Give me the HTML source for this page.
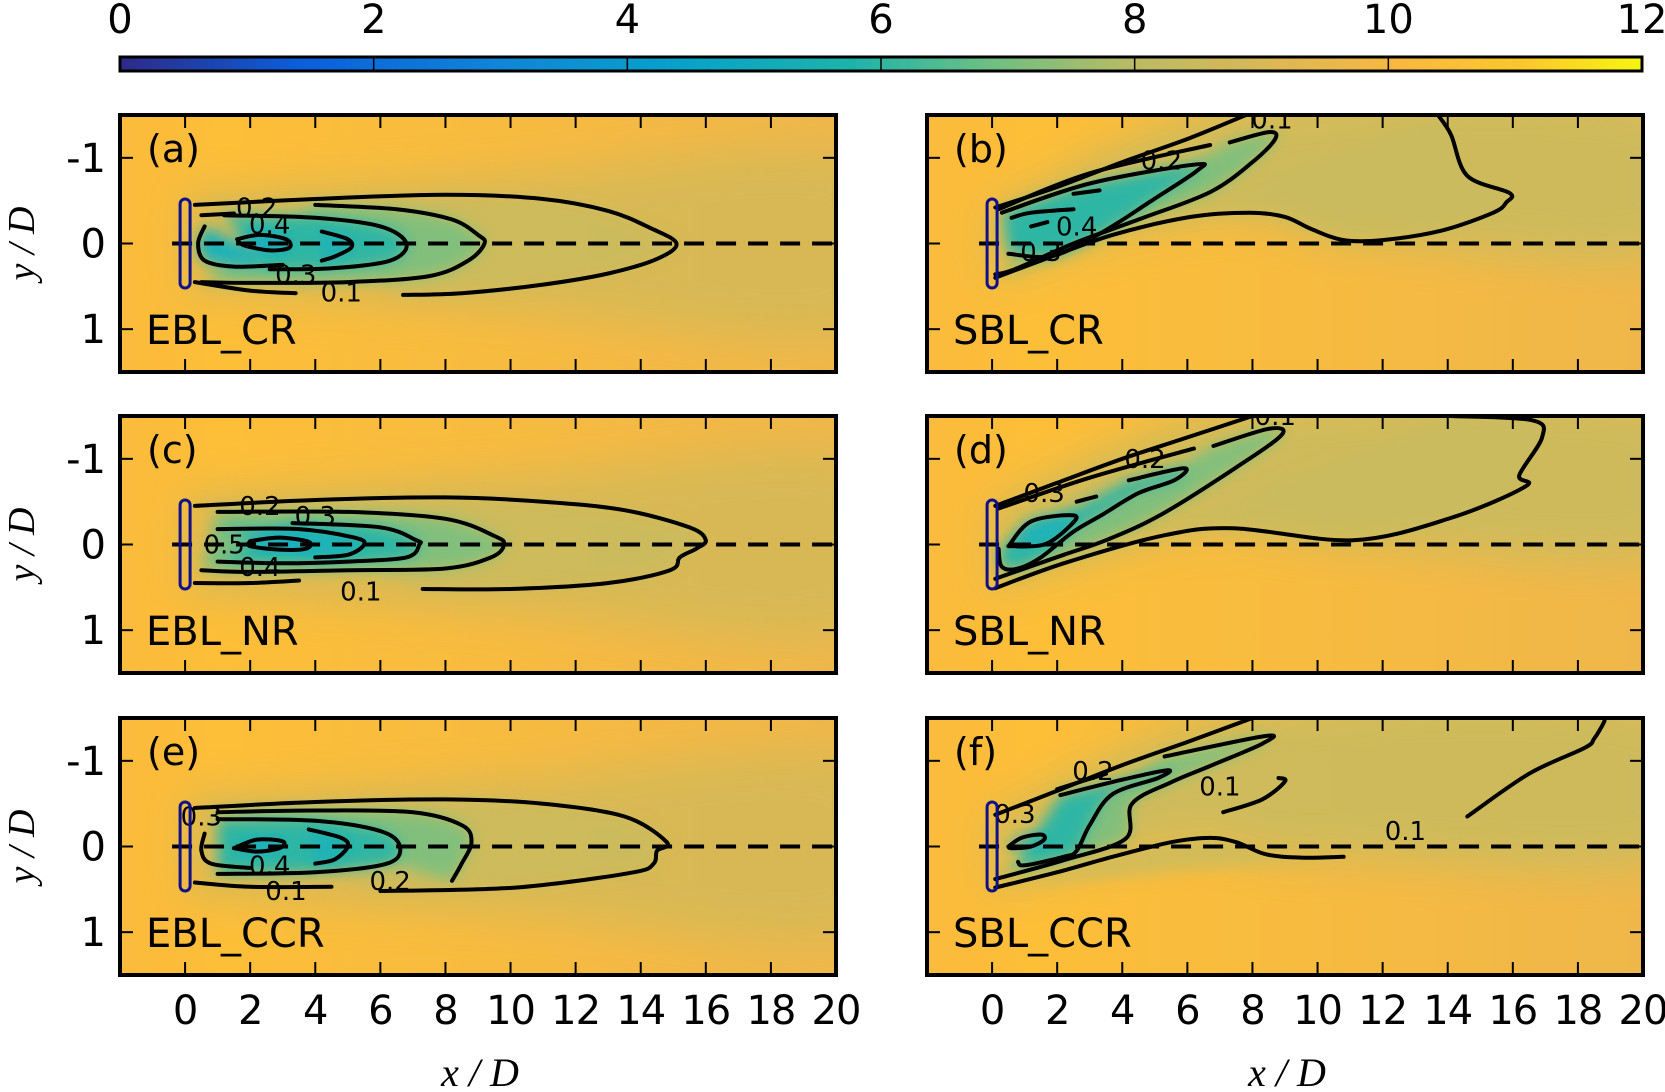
<!DOCTYPE html>
<html><head><meta charset="utf-8">
<style>
html,body{margin:0;padding:0;background:#fff;}
svg{display:block;font-family:"DejaVu Sans","Liberation Sans",sans-serif;}
</style></head>
<body>
<svg id="fig" width="1665" height="1092" viewBox="0 0 1665 1092" xmlns="http://www.w3.org/2000/svg">
<defs>
<linearGradient id="parula" x1="0" x2="1" y1="0" y2="0">
<stop offset="0" stop-color="#2e2a86"/><stop offset="0.12" stop-color="#0b5fdc"/>
<stop offset="0.25" stop-color="#1185d6"/><stop offset="0.37" stop-color="#08a2c9"/>
<stop offset="0.48" stop-color="#1db3aa"/><stop offset="0.57" stop-color="#6dbf84"/>
<stop offset="0.67" stop-color="#bcbb65"/><stop offset="0.76" stop-color="#dcb855"/>
<stop offset="0.84" stop-color="#f9b842"/><stop offset="0.92" stop-color="#fbc72c"/>
<stop offset="1" stop-color="#f5f511"/>
</linearGradient>
<linearGradient id="bgL" x1="0" x2="1" y1="0" y2="0">
<stop offset="0" stop-color="#fbbb3c"/><stop offset="0.15" stop-color="#fdbe38"/><stop offset="1" stop-color="#efb74a"/>
</linearGradient>
<filter id="blur1" x="-20%" y="-50%" width="140%" height="200%"><feGaussianBlur stdDeviation="7"/></filter>
<filter id="blur2" x="-20%" y="-50%" width="140%" height="200%"><feGaussianBlur stdDeviation="20"/></filter>
</defs>
</svg>
<script>
// ---- data ----
const cbarTicks = [0, 2, 4, 6, 8, 10, 12];
const xTicks = [0, 2, 4, 6, 8, 10, 12, 14, 16, 18, 20];
const yTicks = [-1, 0, 1];
const panelNames = ["EBL_CR", "SBL_CR", "EBL_NR", "SBL_NR", "EBL_CCR", "SBL_CCR"];
const panelLetters = ["(a)", "(b)", "(c)", "(d)", "(e)", "(f)"];

const contoursA = [
  {lv:0.1, pts:[[0.3,-0.45],[4,-0.52],[8,-0.57],[11,-0.52],[13,-0.38],[14.3,-0.18],[15.1,0],[14.5,0.18],[13,0.35],[11,0.48],[8.5,0.58],[6.7,0.6]]},
  {lv:0.1, pts:[[0.3,0.45],[2,0.55],[3.4,0.58]]},
  {lv:0.2, pts:[[4,-0.45],[6.5,-0.4],[8.2,-0.28],[9,-0.1],[9.2,0],[8.7,0.2],[7.5,0.38],[5,0.45],[2,0.46],[0.5,0.45]]},
  {lv:0.2, pts:[[0.5,-0.33],[1.5,-0.35]]},
  {lv:0.3, pts:[[1.2,-0.33],[4,-0.3],[6,-0.2],[6.8,0],[6.3,0.2],[4.5,0.29],[2.6,0.3]]},
  {lv:0.4, pts:[[4.2,-0.14],[5,-0.05],[5.1,0.05],[4.6,0.15],[4.2,0.2]]},
  {lv:0.4, pts:[[0.6,-0.2],[0.4,0],[0.6,0.2],[1.5,0.27],[3,0.25]]},
  {lv:0.5, pts:[[1.6,-0.05],[2.3,-0.1],[3.1,-0.05],[3.2,0.05],[2.6,0.08],[1.8,0.02],[1.6,-0.05]]}
];
const contoursC = [
  {lv:0.1, pts:[[0.3,-0.45],[4,-0.52],[8,-0.55],[11,-0.5],[13.5,-0.4],[15.5,-0.2],[16,-0.05],[15.7,0.05],[15.2,0.15],[14.9,0.3],[13,0.45],[10,0.52],[7.3,0.52]]},
  {lv:0.1, pts:[[0.3,0.45],[2,0.45],[3.5,0.42]]},
  {lv:0.2, pts:[[1,-0.38],[5,-0.38],[8,-0.3],[9.5,-0.1],[9.8,0],[9.4,0.15],[8,0.28],[5,0.3],[2,0.32],[0.5,0.3]]},
  {lv:0.3, pts:[[3.3,-0.25],[6,-0.2],[7.1,-0.05],[7.2,0],[6.8,0.15],[5,0.2],[3,0.22],[1,0.2]]},
  {lv:0.4, pts:[[1,-0.18],[3.5,-0.18],[5.2,-0.08],[5.5,0],[5,0.12],[4,0.15]]},
  {lv:0.5, pts:[[2,-0.04],[2.9,-0.08],[3.8,-0.03],[3.7,0.05],[2.9,0.06],[2,0.02],[2,-0.04]]}
];
const contoursE = [
  {lv:0.1, pts:[[0.3,-0.45],[4,-0.52],[8,-0.55],[11,-0.5],[13.5,-0.35],[14.8,-0.05],[14.5,0.05],[14.4,0.2],[13.8,0.3],[11,0.45],[9,0.5],[6,0.52]]},
  {lv:0.1, pts:[[0.3,0.42],[2,0.47],[4.5,0.47]]},
  {lv:0.2, pts:[[1,-0.4],[4,-0.42],[7,-0.4],[8.5,-0.25],[8.8,-0.05],[8.5,0.2],[8.2,0.4]]},
  {lv:0.3, pts:[[1,-0.32],[4,-0.3],[6,-0.18],[6.6,0],[6.2,0.2],[4,0.3],[1,0.32]]},
  {lv:0.4, pts:[[3.8,-0.2],[4.8,-0.1],[5,0],[4.6,0.15],[4,0.2]]},
  {lv:0.4, pts:[[0.6,-0.15],[0.5,0.05],[0.8,0.2],[2,0.25]]},
  {lv:0.5, pts:[[1.5,0.02],[2.2,-0.08],[3,-0.06],[2.9,0.02],[2.2,0.06],[1.5,0.02]]}
];
const contoursB = [
  {lv:0.1, pts:[[0.1,-0.42],[2,-0.66],[4,-0.95],[6,-1.22],[7.8,-1.5]]},
  {lv:0.1, pts:[[13.7,-1.5],[14.1,-1.27],[14.6,-0.79],[15.9,-0.59],[15.8,-0.48],[15.4,-0.36],[13.8,-0.15],[12,-0.04],[10.8,-0.04],[9.8,-0.17],[9,-0.31],[7.9,-0.36],[6.1,-0.31],[3.7,-0.1],[1.5,0.2],[0.1,0.4]]},
  {lv:0.2, pts:[[0.2,-0.4],[3,-0.82],[6.7,-1.15]]},
  {lv:0.2, pts:[[7.3,-1.18],[8.5,-1.3],[8.7,-1.22],[8,-0.95],[6.7,-0.6],[4.5,-0.28],[2.5,0.0],[0.7,0.3],[0.1,0.36]]},
  {lv:0.3, pts:[[0.3,-0.36],[3,-0.7],[6.2,-0.92],[6.3,-0.85],[4.9,-0.5],[3.9,-0.25],[3,-0.05],[1.8,0.15],[0.5,0.12]]},
  {lv:0.4, pts:[[2.5,-0.58],[3.3,-0.62]]},
  {lv:0.4, pts:[[0.6,-0.3],[1.2,-0.36],[2.5,-0.4]]},
  {lv:0.4, pts:[[1.2,-0.2],[1.7,-0.25]]}
];
const contoursD = [
  {lv:0.1, pts:[[0.1,-0.45],[2,-0.72],[4,-1.0],[6,-1.25],[8,-1.5]]},
  {lv:0.1, pts:[[14.1,-1.5],[16.6,-1.45],[16.9,-1.25],[16.2,-0.81],[16.4,-0.68],[14.1,-0.31],[11.1,-0.05],[7.4,-0.19],[5.2,-0.1],[2.2,0.22],[0.1,0.51]]},
  {lv:0.2, pts:[[0.2,-0.42],[3,-0.78],[6.2,-1.12]]},
  {lv:0.2, pts:[[6.8,-1.15],[8.5,-1.35],[8.9,-1.28],[7.5,-0.9],[5.2,-0.35],[3.5,-0.05],[2.2,0.12],[0.1,0.4]]},
  {lv:0.3, pts:[[4.2,-0.75],[5.9,-0.89],[5.6,-0.75],[4.5,-0.6],[3.4,-0.35],[2.5,-0.15],[1.5,0.15],[0.8,0.28],[0.3,0.26],[0.2,0.05]]},
  {lv:0.3, pts:[[2.6,-0.5],[3.2,-0.56]]},
  {lv:0.4, pts:[[0.5,0.02],[1.2,-0.27],[2.5,-0.34],[2.4,-0.22],[1.6,0.0],[0.5,0.02]]}
];
const contoursF = [
  {lv:0.1, pts:[[0.1,-0.37],[2,-0.65],[4,-0.95],[6,-1.22],[8,-1.5]]},
  {lv:0.2, pts:[[2,-0.67],[3.5,-0.85]]},
  {lv:0.2, pts:[[5.3,-1.05],[8.4,-1.29],[8.3,-1.2],[6.7,-0.94],[5.5,-0.75],[4.3,-0.5],[4.1,-0.09],[2.2,0.16],[0.1,0.38]]},
  {lv:0.3, pts:[[2.1,-0.6],[4,-0.78],[5.4,-0.89],[5.1,-0.8],[3.7,-0.61],[3,-0.25],[2.6,0.05],[2.2,0.12],[1,0.22],[0.8,0.18]]},
  {lv:0.4, pts:[[0.5,0.0],[0.9,-0.1],[1.5,-0.14],[1.6,-0.08],[1.2,0.0],[0.6,0.02],[0.5,0.0]]},
  {lv:0.1, pts:[[7.1,-0.4],[8.3,-0.55],[9,-0.76],[8.8,-0.8]]},
  {lv:0.1, pts:[[0.1,0.48],[2,0.3],[3.7,0.12],[5.5,-0.05],[6.7,-0.1],[7.5,-0.05],[8.4,0.09],[9.5,0.13],[10.8,0.12]]},
  {lv:0.1, pts:[[14.6,-0.35],[16.5,-0.85],[18.2,-1.15],[18.5,-1.26],[18.8,-1.45],[18.8,-1.5]]}
];
const labelsA = [["0.2",2.2,-0.42],["0.4",2.6,-0.22],["0.3",3.4,0.36],["0.1",4.8,0.57]];
const labelsB = [["0.1",8.6,-1.45],["0.2",5.2,-0.97],["0.4",2.6,-0.2],["0.3",1.5,0.1]];
const labelsC = [["0.2",2.3,-0.45],["0.3",4,-0.33],["0.5",1.2,0],["0.4",2.3,0.26],["0.1",5.4,0.55]];
const labelsD = [["0.1",8.7,-1.5],["0.2",4.7,-1.0],["0.3",1.6,-0.6]];
const labelsE = [["0.3",0.5,-0.35],["0.4",2.6,0.22],["0.1",3.1,0.52],["0.2",6.3,0.4]];
const labelsF = [["0.2",3.1,-0.88],["0.3",0.7,-0.38],["0.1",7,-0.7],["0.1",12.7,-0.18]];
const wakeB = [[0,-0.4],[7.8,-1.6],[20.5,-1.6],[20.5,0.1],[12,0],[9.5,-0.15],[7.9,-0.3],[6,-0.25],[3.7,-0.05],[1.5,0.25],[0,0.45]];
const wakeD = [[0,-0.45],[8,-1.6],[20.5,-1.6],[20.5,0.1],[11.1,0.0],[7.4,-0.15],[5.2,-0.05],[2.2,0.27],[0,0.55]];
const wakeF = [[0,-0.35],[8,-1.6],[20.5,-1.6],[20.5,0.15],[10.8,0.15],[8.4,0.12],[6.7,-0.05],[3.7,0.15],[0,0.5]];

// ---- layout ----
const NS = "http://www.w3.org/2000/svg";
const svg = document.getElementById("fig");
const W = 716, H = 257;
const colX = [120, 927];
const rowY = [115, 416, 718];
function mk(tag, attrs, parent) {
  const e = document.createElementNS(NS, tag);
  for (const k in attrs) e.setAttribute(k, attrs[k]);
  (parent || svg).appendChild(e);
  return e;
}
function sx(p, x) { return p.x0 + (x + 2) / 22 * W; }
function sy(p, y) { return p.y0 + (y + 1.5) / 3 * H; }
function pathOf(p, pts, close) {
  const P = pts.map(q => [sx(p, q[0]), sy(p, q[1])]);
  const n = P.length;
  let d = "M" + P[0][0].toFixed(1) + " " + P[0][1].toFixed(1);
  for (let i = 0; i < n - 1; i++) {
    const p0 = P[Math.max(0, i - 1)], p1 = P[i], p2 = P[i + 1], p3 = P[Math.min(n - 1, i + 2)];
    const c1 = [p1[0] + (p2[0] - p0[0]) / 6, p1[1] + (p2[1] - p0[1]) / 6];
    const c2 = [p2[0] - (p3[0] - p1[0]) / 6, p2[1] - (p3[1] - p1[1]) / 6];
    d += " C" + c1[0].toFixed(1) + " " + c1[1].toFixed(1) + " " + c2[0].toFixed(1) + " " + c2[1].toFixed(1) + " " + p2[0].toFixed(1) + " " + p2[1].toFixed(1);
  }
  return d + (close ? " Z" : "");
}

// ---- colorbar ----
const cb = {x0: 120, x1: 1642, y0: 57, y1: 71};
function cbx(v) { return cb.x0 + v / 12 * (cb.x1 - cb.x0); }
const cbr = mk("rect", {x: cb.x0, y: cb.y0, width: cb.x1 - cb.x0, height: cb.y1 - cb.y0, fill: "url(#parula)", stroke: "#000", "stroke-width": 3});


cbarTicks.forEach(v => {
  const l = mk("line", {x1: cbx(v), x2: cbx(v), y1: cb.y0, y2: cb.y1, stroke: "#000", "stroke-width": 1.5});
  
  
  const t = mk("text", {x: cbx(v), y: 33, "font-size": 40, "text-anchor": "middle", fill: "#000"});
  t.textContent = v;
  
  
});

// ---- panels ----
const panels = [
  {c: contoursA, l: labelsA, wake: null},
  {c: contoursB, l: labelsB, wake: wakeB},
  {c: contoursC, l: labelsC, wake: null},
  {c: contoursD, l: labelsD, wake: wakeD},
  {c: contoursE, l: labelsE, wake: null},
  {c: contoursF, l: labelsF, wake: wakeF}
];
const fillCol = {0.1: "#c8bc60", 0.2: "#7fc07e", 0.3: "#2fb6a4", 0.4: "#1ab2b8", 0.5: "#12afc4"};
const fillOp = {0.1: 0.7, 0.2: 0.95, 0.3: 1, 0.4: 1, 0.5: 1};

panels.forEach((pd, i) => {
  const p = {x0: colX[i % 2], y0: rowY[Math.floor(i / 2)]};
  const g = mk("g", {});
  
  
  const cid = "clip" + i;
  const cp = mk("clipPath", {id: cid}, g);
  mk("rect", {x: p.x0, y: p.y0, width: W, height: H}, cp);
  const fg = mk("g", {"clip-path": "url(#" + cid + ")"}, g);
  const bg = mk("rect", {x: p.x0, y: p.y0, width: W, height: H, fill: "url(#bgL)"}, fg);
  
  
  if (pd.wake) {
    const w = mk("path", {d: pathOf(p, pd.wake, true), fill: "#cdbb5d", filter: "url(#blur2)", opacity: 0.95}, fg);
    
    
  } else {
    const w = mk("path", {d: pathOf(p, [[0,-0.6],[10,-0.8],[20.5,-1.0],[20.5,1.0],[10,0.8],[0,0.6]], true), fill: "#d6b957", filter: "url(#blur2)", opacity: 0.9}, fg);
    
    
  }
  pd.c.forEach(c => {
    if (c.pts.length < 5) return;
    const f = mk("path", {d: pathOf(p, c.pts, true), fill: fillCol[c.lv], filter: "url(#blur1)", opacity: fillOp[c.lv]}, fg);
    
    
  });
  const dl = mk("line", {x1: sx(p, -0.4), x2: sx(p, 20.5), y1: sy(p, 0), y2: sy(p, 0), stroke: "#000", "stroke-width": 4, "stroke-dasharray": "20 12"}, fg);
  
  
  pd.c.forEach(c => {
    const cl = mk("path", {d: pathOf(p, c.pts, false), fill: "none", stroke: "#000", "stroke-width": 4, "stroke-linejoin": "round", "stroke-linecap": "round"}, fg);
    
    
  });
  pd.l.forEach(lb => {
    const t = mk("text", {x: sx(p, lb[1]), y: sy(p, lb[2]) + 9, "font-size": 26, "text-anchor": "middle", fill: "#000"}, fg);
    t.textContent = lb[0];
    
    
  });
  const rot = mk("rect", {x: sx(p, 0) - 5, y: sy(p, -0.52), width: 10, height: sy(p, 0.52) - sy(p, -0.52), rx: 5, fill: "none", stroke: "#10108a", "stroke-width": 3}, fg);
  
  
  const fr = mk("rect", {x: p.x0, y: p.y0, width: W, height: H, fill: "none", stroke: "#000", "stroke-width": 4}, g);
  
  
  xTicks.forEach(v => {
    const a = mk("line", {x1: sx(p, v), x2: sx(p, v), y1: p.y0, y2: p.y0 + 13, stroke: "#000", "stroke-width": 2}, g);
    
    
    const b = mk("line", {x1: sx(p, v), x2: sx(p, v), y1: p.y0 + H, y2: p.y0 + H - 13, stroke: "#000", "stroke-width": 2}, g);
    
    
    if (i >= 4) {
      const t = mk("text", {x: sx(p, v), y: 1024, "font-size": 40, "text-anchor": "middle", fill: "#000", "letter-spacing": "-1"}, g);
      t.textContent = v;
      
      
    }
  });
  yTicks.forEach(v => {
    const a = mk("line", {x1: p.x0, x2: p.x0 + 13, y1: sy(p, v), y2: sy(p, v), stroke: "#000", "stroke-width": 2}, g);
    
    
    const b = mk("line", {x1: p.x0 + W, x2: p.x0 + W - 13, y1: sy(p, v), y2: sy(p, v), stroke: "#000", "stroke-width": 2}, g);
    
    
    if (i % 2 === 0) {
      const t = mk("text", {x: p.x0 - 14, y: sy(p, v) + 14, "font-size": 40, "text-anchor": "end", fill: "#000"}, g);
      t.textContent = v;
      
      
    }
  });
  const pl = mk("text", {x: p.x0 + 27, y: p.y0 + 47, "font-size": 38, fill: "#000"}, g);
  pl.textContent = panelLetters[i];
  
  
  const pn = mk("text", {x: p.x0 + 26, y: sy(p, 1) + 15, "font-size": 40, fill: "#000"}, g);
  pn.textContent = panelNames[i];
  
  
  if (i % 2 === 0) {
    const cy = p.y0 + H / 2;
    const yl = mk("text", {x: 34, y: cy, "font-size": 38, "font-style": "italic", "font-family": "Liberation Serif, serif", "text-anchor": "middle", transform: "rotate(-90 34 " + cy + ")", fill: "#000"}, g);
    yl.textContent = "y / D";
    
    
  }
  if (i >= 4) {
    const xl = mk("text", {x: p.x0 + W / 2 + 2, y: 1086, "font-size": 40, "font-style": "italic", "font-family": "Liberation Serif, serif", "text-anchor": "middle", fill: "#000"}, g);
    xl.textContent = "x / D";
    
    
  }
});
</script>
</body></html>
